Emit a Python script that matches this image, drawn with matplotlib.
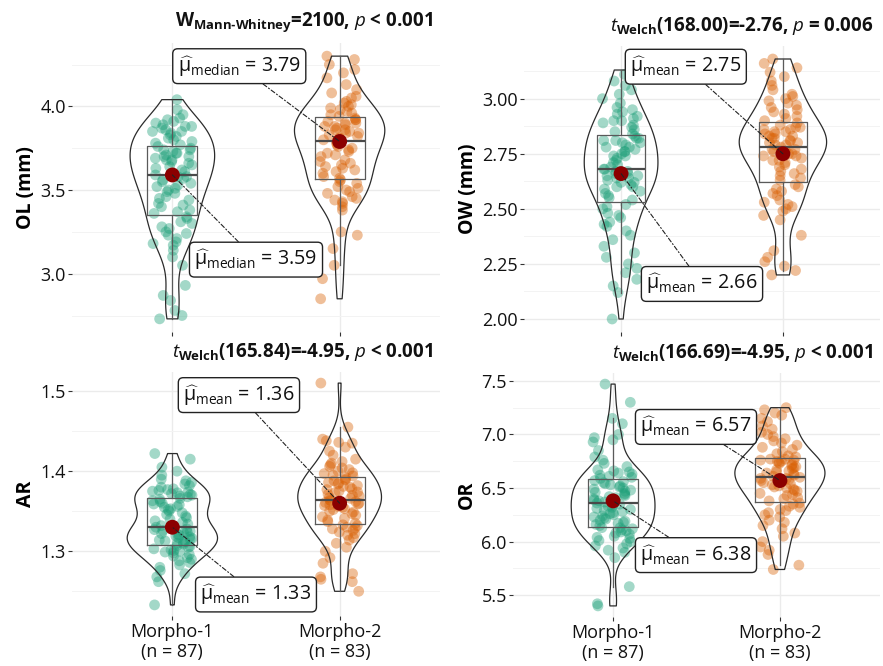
import numpy as np
import matplotlib
matplotlib.use("Agg")
import matplotlib.pyplot as plt
from matplotlib import mlab
from matplotlib.ticker import FixedLocator, NullLocator

plt.rcParams['font.family'] = ['Open Sans', 'DejaVu Sans']
plt.rcParams['mathtext.fontset'] = 'custom'
plt.rcParams['mathtext.rm'] = 'Open Sans'
plt.rcParams['mathtext.it'] = 'Open Sans:italic'
plt.rcParams['mathtext.bf'] = 'Open Sans:bold'
plt.rcParams['mathtext.fallback'] = 'stixsans'

# ---------------- data ----------------
groups = ["Morpho-1", "Morpho-2"]
group_n = [87, 83]

ol_m1 = [2.73, 2.75, 2.78, 2.84, 2.87, 2.93, 3.05, 3.10, 3.14, 3.17, 3.18, 3.19, 3.21, 3.23, 3.24, 3.25, 3.27, 3.28, 3.30, 3.31, 3.33, 3.34,
         3.36, 3.37, 3.38, 3.40, 3.41, 3.42, 3.44, 3.45, 3.46, 3.48, 3.49, 3.50, 3.51, 3.52, 3.53, 3.54, 3.55, 3.56, 3.57, 3.58, 3.58,
         3.59,
         3.60, 3.61, 3.62, 3.63, 3.64, 3.65, 3.66, 3.67, 3.68, 3.68, 3.69, 3.70, 3.70, 3.71, 3.72, 3.72, 3.73, 3.74, 3.74, 3.75, 3.76,
         3.77, 3.78, 3.79, 3.80, 3.81, 3.82, 3.83, 3.84, 3.85, 3.85, 3.86, 3.87, 3.88, 3.88, 3.89, 3.90, 3.91, 3.92, 3.93, 3.95, 3.98, 4.04]
ol_m2 = [2.85, 2.97, 3.05, 3.15, 3.23, 3.25, 3.38, 3.40, 3.42, 3.43, 3.44, 3.45, 3.46, 3.48, 3.49, 3.50, 3.51, 3.52, 3.54, 3.55, 3.56,
         3.57, 3.58, 3.60, 3.61, 3.62, 3.63, 3.64, 3.65, 3.66, 3.67, 3.68, 3.70, 3.71, 3.72, 3.73, 3.74, 3.75, 3.76, 3.77, 3.78,
         3.79,
         3.80, 3.81, 3.81, 3.82, 3.83, 3.84, 3.84, 3.85, 3.86, 3.86, 3.87, 3.88, 3.88, 3.89, 3.90, 3.90, 3.91, 3.92, 3.92, 3.93,
         3.94, 3.95, 3.96, 3.97, 3.98, 3.99, 4.00, 4.01, 4.02, 4.03, 4.05, 4.06, 4.08, 4.10, 4.13, 4.17, 4.20, 4.22, 4.25, 4.28, 4.30]

ow_m1 = [2.00, 2.12, 2.15, 2.18, 2.21, 2.23, 2.25, 2.28, 2.30, 2.33, 2.36, 2.38, 2.40, 2.42, 2.43, 2.44, 2.46, 2.47, 2.48, 2.50, 2.51, 2.52,
         2.54, 2.55, 2.56, 2.57, 2.58, 2.59, 2.60, 2.60, 2.61, 2.62, 2.62, 2.63, 2.64, 2.64, 2.65, 2.65, 2.66, 2.66, 2.67, 2.67, 2.68,
         2.68,
         2.69, 2.70, 2.71, 2.72, 2.73, 2.74, 2.74, 2.75, 2.76, 2.76, 2.77, 2.78, 2.78, 2.79, 2.80, 2.80, 2.81, 2.81, 2.82, 2.82, 2.83,
         2.84, 2.85, 2.86, 2.87, 2.88, 2.89, 2.90, 2.90, 2.91, 2.92, 2.93, 2.94, 2.95, 2.96, 2.98, 3.00, 3.02, 3.04, 3.06, 3.08, 3.11, 3.13]
ow_m2 = [2.20, 2.22, 2.24, 2.26, 2.28, 2.31, 2.38, 2.45, 2.47, 2.49, 2.50, 2.51, 2.52, 2.53, 2.54, 2.56, 2.57, 2.58, 2.59, 2.60, 2.61,
         2.63, 2.64, 2.65, 2.66, 2.67, 2.68, 2.69, 2.70, 2.71, 2.72, 2.72, 2.73, 2.74, 2.74, 2.75, 2.75, 2.76, 2.76, 2.77, 2.77,
         2.78,
         2.79, 2.79, 2.80, 2.80, 2.81, 2.81, 2.82, 2.82, 2.83, 2.83, 2.84, 2.84, 2.85, 2.85, 2.86, 2.86, 2.87, 2.87, 2.88, 2.89,
         2.90, 2.91, 2.92, 2.93, 2.94, 2.95, 2.96, 2.97, 2.98, 2.99, 3.00, 3.01, 3.02, 3.04, 3.06, 3.08, 3.10, 3.12, 3.14, 3.16, 3.18]

ar_m1 = [1.233, 1.262, 1.268, 1.272, 1.276, 1.280, 1.283, 1.286, 1.288, 1.290, 1.292, 1.294, 1.296, 1.298, 1.299, 1.300, 1.301, 1.302, 1.303, 1.305, 1.306, 1.307,
         1.309, 1.310, 1.311, 1.312, 1.313, 1.314, 1.315, 1.316, 1.317, 1.318, 1.319, 1.320, 1.321, 1.322, 1.323, 1.324, 1.325, 1.326, 1.327, 1.328, 1.329,
         1.330,
         1.332, 1.334, 1.336, 1.338, 1.340, 1.342, 1.344, 1.346, 1.348, 1.350, 1.352, 1.353, 1.355, 1.356, 1.358, 1.359, 1.360, 1.362, 1.363, 1.365, 1.366,
         1.368, 1.369, 1.370, 1.371, 1.372, 1.373, 1.374, 1.375, 1.376, 1.377, 1.378, 1.380, 1.382, 1.384, 1.386, 1.388, 1.390, 1.395, 1.400, 1.405, 1.415, 1.422]
ar_m2 = [1.250, 1.262, 1.265, 1.268, 1.272, 1.285, 1.292, 1.300, 1.305, 1.310, 1.314, 1.317, 1.320, 1.322, 1.324, 1.326, 1.328, 1.329, 1.330, 1.332, 1.333,
         1.335, 1.337, 1.339, 1.341, 1.343, 1.345, 1.347, 1.349, 1.350, 1.352, 1.353, 1.355, 1.356, 1.357, 1.358, 1.359, 1.360, 1.361, 1.362, 1.363,
         1.364,
         1.366, 1.367, 1.369, 1.370, 1.371, 1.373, 1.374, 1.375, 1.377, 1.378, 1.380, 1.381, 1.382, 1.384, 1.385, 1.386, 1.388, 1.389, 1.390, 1.392,
         1.394, 1.395, 1.397, 1.398, 1.400, 1.402, 1.404, 1.406, 1.408, 1.410, 1.412, 1.415, 1.420, 1.425, 1.430, 1.435, 1.436, 1.438, 1.440, 1.455, 1.510]

or_m1 = [5.40, 5.42, 5.58, 5.85, 5.90, 5.92, 5.94, 5.96, 5.98, 6.00, 6.01, 6.03, 6.04, 6.05, 6.07, 6.08, 6.09, 6.10, 6.11, 6.12, 6.13, 6.13,
         6.15, 6.16, 6.17, 6.18, 6.19, 6.20, 6.21, 6.22, 6.23, 6.24, 6.25, 6.26, 6.27, 6.28, 6.29, 6.30, 6.31, 6.32, 6.33, 6.34, 6.35,
         6.36,
         6.37, 6.38, 6.39, 6.40, 6.41, 6.42, 6.43, 6.44, 6.45, 6.46, 6.47, 6.48, 6.49, 6.50, 6.51, 6.52, 6.53, 6.54, 6.55, 6.56, 6.57,
         6.59, 6.60, 6.61, 6.62, 6.63, 6.64, 6.65, 6.66, 6.67, 6.70, 6.73, 6.76, 6.79, 6.85, 6.93, 6.95, 6.97, 7.00, 7.10, 7.15, 7.30, 7.47]
or_m2 = [5.74, 5.78, 5.88, 5.92, 5.95, 6.00, 6.05, 6.08, 6.12, 6.15, 6.18, 6.20, 6.23, 6.25, 6.27, 6.29, 6.30, 6.32, 6.33, 6.35, 6.36,
         6.38, 6.40, 6.41, 6.43, 6.44, 6.45, 6.47, 6.48, 6.49, 6.50, 6.51, 6.52, 6.53, 6.54, 6.55, 6.56, 6.57, 6.58, 6.59, 6.59,
         6.60,
         6.61, 6.62, 6.63, 6.64, 6.65, 6.66, 6.67, 6.68, 6.69, 6.70, 6.71, 6.72, 6.73, 6.74, 6.75, 6.75, 6.76, 6.76, 6.77, 6.77,
         6.79, 6.80, 6.82, 6.84, 6.86, 6.88, 6.90, 6.92, 6.94, 6.96, 6.98, 7.00, 7.02, 7.05, 7.08, 7.12, 7.15, 7.18, 7.20, 7.23, 7.25]

# centrality values shown by the red dots / labels
ol_centre = [3.59, 3.79]
ow_centre = [2.66, 2.75]
ar_centre = [1.33, 1.36]
or_centre = [6.38, 6.57]
centre_kind = ["median", "mean", "mean", "mean"]

y_labels = ["OL (mm)", "OW (mm)", "AR", "OR"]
titles = ["$\\mathbf{W}_{\\mathbf{Mann\u2010Whitney}}$=2100, $\\mathit{p}$ < 0.001",
          r"$\mathit{t}_{\mathbf{Welch}}$(168.00)=-2.76, $\mathit{p}$ = 0.006",
          r"$\mathit{t}_{\mathbf{Welch}}$(165.84)=-4.95, $\mathit{p}$ < 0.001",
          r"$\mathit{t}_{\mathbf{Welch}}$(166.69)=-4.95, $\mathit{p}$ < 0.001"]

ol_ticks = [3.0, 3.5, 4.0]
ow_ticks = [2.00, 2.25, 2.50, 2.75, 3.00]
ar_ticks = [1.3, 1.4, 1.5]
or_ticks = [5.5, 6.0, 6.5, 7.0, 7.5]
tick_fmt = ["{:.1f}", "{:.2f}", "{:.1f}", "{:.1f}"]

# ---------------- layout / style ----------------
W, H = 883, 666
colors = ["#1B9E77", "#D95F02"]

def frac(x0, y0, x1, y1):
    return [x0 / W, 1 - y1 / H, (x1 - x0) / W, (y1 - y0) / H]

axes_px = [(72, 43, 440, 332), (524, 46, 880, 332), (72, 372, 440, 616), (513, 373, 880, 617)]
# label box centres (data coords) for group 1 and group 2
label_pos = [[(1.50, 3.084), (1.40, 4.24)],
             [(1.50, 2.159), (1.40, 3.145)],
             [(1.50, 1.246), (1.398, 1.495)],
             [(1.497, 5.874), (1.497, 7.07)]]

panels = [
    dict(data=[ol_m1, ol_m2], centre=ol_centre, ticks=ol_ticks),
    dict(data=[ow_m1, ow_m2], centre=ow_centre, ticks=ow_ticks),
    dict(data=[ar_m1, ar_m2], centre=ar_centre, ticks=ar_ticks),
    dict(data=[or_m1, or_m2], centre=or_centre, ticks=or_ticks),
]


def nrd0(kde):
    d = np.asarray(kde.dataset).ravel()
    sd = d.std(ddof=1)
    q75, q25 = np.percentile(d, [75, 25])
    bw = 0.9 * min(sd, (q75 - q25) / 1.34) * len(d) ** -0.2
    return bw / sd


def peak_density(d):
    kde = mlab.GaussianKDE(np.asarray(d, float), bw_method=nrd0)
    xs = np.linspace(min(d), max(d), 256)
    return kde.evaluate(xs).max()


def jitter_offsets(n, seed_shift, half_width):
    # deterministic scatter of horizontal positions (hash of the index)
    i = np.arange(n, dtype=float)
    h = np.sin(i * 12.9898 + seed_shift * 78.233) * 43758.5453
    return ((h - np.floor(h)) - 0.5) * 2 * half_width


fig = plt.figure(figsize=(W / 100, H / 100), dpi=100)
fig.patch.set_facecolor("white")

for k, p in enumerate(panels):
    ax = fig.add_axes(frac(*axes_px[k]))
    data = [np.asarray(d, float) for d in p["data"]]
    lo = min(d.min() for d in data)
    hi = max(d.max() for d in data)
    pad = 0.05 * (hi - lo)
    ax.set_ylim(lo - pad, hi + pad)
    ax.set_xlim(0.4, 2.6)

    # grid
    ticks = p["ticks"]
    step = ticks[1] - ticks[0]
    minor = [t - step / 2 for t in ticks] + [ticks[-1] + step / 2]
    ax.yaxis.set_major_locator(FixedLocator(ticks))
    ax.yaxis.set_minor_locator(FixedLocator(minor))
    ax.set_yticklabels([tick_fmt[k].format(t) for t in ticks])
    ax.xaxis.set_major_locator(FixedLocator([1, 2]))
    ax.xaxis.set_minor_locator(NullLocator())
    ax.set_axisbelow(True)
    ax.grid(which="major", color="#EBEBEB", lw=1.0)
    ax.grid(which="minor", axis="y", color="#F3F3F3", lw=0.7)
    for s in ax.spines.values():
        s.set_visible(False)
    ax.tick_params(axis="both", which="major", length=3, width=0.8, color="#333333",
                   labelsize=13, labelcolor="#111111", pad=1.5)
    ax.tick_params(axis="y", which="minor", length=0)
    if k >= 2:
        ax.set_xticklabels([f"{g}\n(n = {n})" for g, n in zip(groups, group_n)],
                           fontsize=13, linespacing=1.15)
        ax.tick_params(axis="x", pad=2)
    else:
        ax.set_xticklabels(["", ""])

    # jittered points
    for gi, d in enumerate(data):
        jit = jitter_offsets(len(d), k * 2 + gi + 1, 0.12)
        ax.scatter(gi + 1 + jit, d, s=60, color=colors[gi], alpha=0.4,
                   edgecolors="none", zorder=2)

    # violins (area-scaled like ggplot)
    peaks = np.array([peak_density(d) for d in data])
    widths = 0.54 * peaks / peaks.max()
    vp = ax.violinplot(data, positions=[1, 2], widths=widths, showextrema=False,
                       bw_method=nrd0, points=256)
    for b in vp["bodies"]:
        b.set_alpha(None)
        b.set_facecolor("none")
        b.set_edgecolor("#2b2b2b")
        b.set_linewidth(0.9)
        b.set_zorder(3)

    # boxplots
    ax.boxplot(data, positions=[1, 2], widths=0.3, showfliers=False, showcaps=False,
               manage_ticks=False,
               boxprops=dict(color="#5a5a5a", lw=0.9),
               whiskerprops=dict(color="#5a5a5a", lw=0.9),
               medianprops=dict(color="#4a4a4a", lw=1.6),
               zorder=3)

    # centrality points and labels
    for gi, c in enumerate(p["centre"]):
        ax.scatter([gi + 1], [c], s=115, color="#8B0000", zorder=5, edgecolors="none")
        lx, ly = label_pos[k][gi]
        txt = r"$\widehat{\mathrm{\mu}}_{\mathrm{" + centre_kind[k] + r"}}$ = " + f"{c:.2f}"
        ax.annotate(txt, xy=(gi + 1, c), xytext=(lx, ly), textcoords="data",
                    ha="center", va="center", fontsize=14.2, color="#111111",
                    bbox=dict(boxstyle="round,pad=0.25,rounding_size=0.25", fc="white",
                              ec="#222222", lw=1.0),
                    arrowprops=dict(arrowstyle="-", color="#222222", lw=0.8,
                                    linestyle=(0, (4, 2, 1, 2)), shrinkA=0, shrinkB=0),
                    zorder=6, annotation_clip=False)

    ax.set_ylabel(y_labels[k], fontsize=14, fontweight="bold", labelpad=3)
    ax.annotate(titles[k], xy=(1, 1), xycoords="axes fraction", xytext=(-5, 6.5),
                textcoords="offset points", ha="right", va="bottom",
                fontsize=13.5, fontweight="bold", color="#111111")

fig.savefig("out.png", dpi=100, facecolor="white")
